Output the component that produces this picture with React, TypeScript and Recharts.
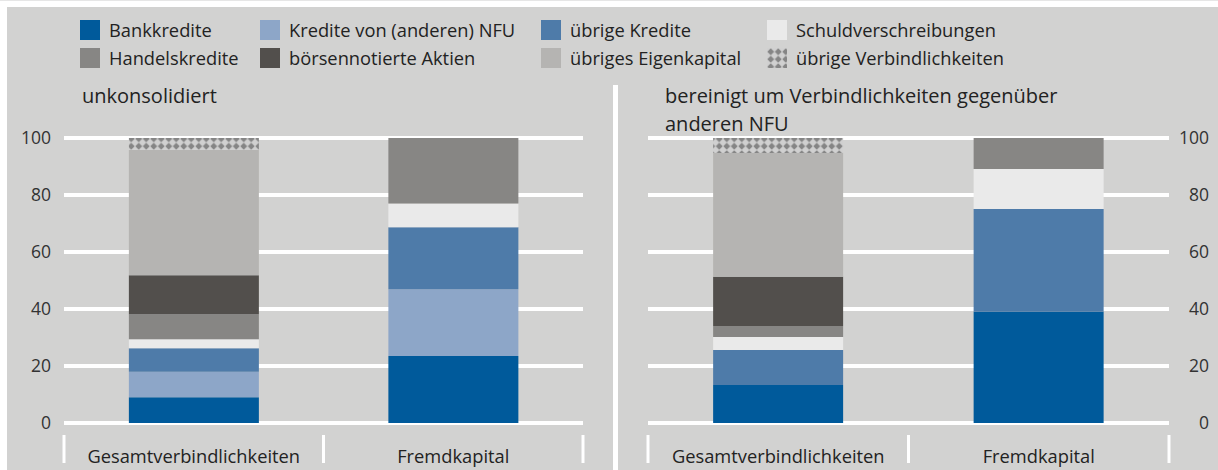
import { BarChart, Bar, XAxis, YAxis, CartesianGrid } from 'recharts';

const categories = ['Gesamtverbindlichkeiten', 'Fremdkapital'];
const yTicks = [0, 20, 40, 60, 80, 100];

const seriesNames = [
  'Bankkredite', 'Kredite von (anderen) NFU', 'übrige Kredite', 'Schuldverschreibungen',
  'Handelskredite', 'börsennotierte Aktien', 'übriges Eigenkapital', 'übrige Verbindlichkeiten',
];
const seriesKeys = ['bank', 'nfu', 'uebrigeKredite', 'schuld', 'handel', 'aktien', 'eigenkapital', 'uebrigeVerb'];
const seriesColors = ['#005a9b', '#8da6c8', '#4e7ba9', '#eaeaea', '#878684', '#524f4c', '#b5b4b2', 'url(#hatch)'];

// unkonsolidiert
const bankU = [9.0, 23.5];
const nfuU = [9.0, 23.4];
const uebrigeKrediteU = [8.2, 21.8];
const schuldU = [3.2, 8.3];
const handelU = [8.8, 23.0];
const aktienU = [13.6, 0];
const eigenkapitalU = [44.0, 0];
const uebrigeVerbU = [4.2, 0];

// bereinigt um Verbindlichkeiten gegenüber anderen NFU
const bankB = [13.3, 39.0];
const nfuB = [0, 0];
const uebrigeKrediteB = [12.3, 36.1];
const schuldB = [4.6, 14.0];
const handelB = [3.8, 10.9];
const aktienB = [17.3, 0];
const eigenkapitalB = [43.4, 0];
const uebrigeVerbB = [5.3, 0];

const FONT = '"Open Sans", sans-serif';
const BG = '#d2d2d1';
const TEXT = '#222';

function buildRows(cols: number[][]) {
  return categories.map((name, i) => {
    const row: Record<string, string | number> = { name };
    seriesKeys.forEach((k, s) => { row[k] = cols[s][i]; });
    return row;
  });
}

const dataU = buildRows([bankU, nfuU, uebrigeKrediteU, schuldU, handelU, aktienU, eigenkapitalU, uebrigeVerbU]);
const dataB = buildRows([bankB, nfuB, uebrigeKrediteB, schuldB, handelB, aktienB, eigenkapitalB, uebrigeVerbB]);

function HatchPattern({ id }: { id: string }) {
  return (
    <pattern id={id} width="7.5" height="7.5" patternUnits="userSpaceOnUse">
      <rect width="7.5" height="7.5" fill="#d0d0d0" />
      <polygon points="3.75,0.3 7.2,3.75 3.75,7.2 0.3,3.75" fill="#858585" />
    </pattern>
  );
}

function CategoryTick(props: any) {
  const { x, y, payload, index } = props;
  const half = payload?.offset ?? 0;
  const last = index === categories.length - 1;
  return (
    <g>
      <line x1={x - half} x2={x - half} y1={y + 12} y2={y + 40} stroke="#fff" strokeWidth={3} />
      {last && <line x1={x + half} x2={x + half} y1={y + 12} y2={y + 40} stroke="#fff" strokeWidth={3} />}
      <text x={x} y={y + 40} textAnchor="middle" fill={TEXT} fontSize={18.3} fontFamily={FONT}>
        {payload.value}
      </text>
    </g>
  );
}

function Panel({ data, side }: { data: Record<string, string | number>[]; side: 'left' | 'right' }) {
  const isLeft = side === 'left';
  return (
    <BarChart
      width={isLeft ? 613 : 600}
      height={470}
      data={data}
      barCategoryGap="25%"
      margin={isLeft ? { top: 138, right: 30, bottom: 0, left: 0 } : { top: 138, right: 0, bottom: 0, left: 30 }}
    >
      <defs>
        <HatchPattern id="hatch" />
      </defs>
      <CartesianGrid vertical={false} stroke="#fff" strokeWidth={4} />
      <XAxis
        dataKey="name"
        axisLine={false}
        tickLine={false}
        tickSize={0}
        tickMargin={0}
        height={47}
        interval={0}
        tick={<CategoryTick />}
      />
      <YAxis
        orientation={side}
        width={isLeft ? 64 : 49}
        domain={[0, 100]}
        ticks={yTicks}
        axisLine={false}
        tickLine={false}
        tickSize={0}
        tickMargin={isLeft ? 13 : 40}
        tick={{ fill: '#333', fontSize: 17.5, fontFamily: FONT, textAnchor: 'end' }}
      />
      {seriesKeys.map((k, i) => (
        <Bar
          key={k}
          dataKey={k}
          name={seriesNames[i]}
          stackId="a"
          fill={seriesColors[i]}
          isAnimationActive={false}
        />
      ))}
    </BarChart>
  );
}

const legendCols = [80, 260, 541, 767];

function Swatch({ color }: { color: string }) {
  return (
    <svg width={20} height={20} style={{ position: 'absolute', left: 0, top: 0 }}>
      <defs>
        <HatchPattern id="hatchLegend" />
      </defs>
      <rect width={20} height={20} fill={color === 'url(#hatch)' ? 'url(#hatchLegend)' : color} />
    </svg>
  );
}

function Legend() {
  return (
    <>
      {seriesNames.map((name, i) => {
        const col = i % 4;
        const row = Math.floor(i / 4);
        return (
          <div
            key={name}
            style={{
              position: 'absolute', left: legendCols[col], top: 20 + row * 28,
              height: 20, paddingLeft: 29, fontSize: 18.3, lineHeight: '20px',
              color: TEXT, whiteSpace: 'nowrap',
            }}
          >
            <Swatch color={seriesColors[i]} />
            {name}
          </div>
        );
      })}
    </>
  );
}

export default function App() {
  return (
    <div style={{ position: 'absolute', left: 0, top: 0, width: 1218, height: 470, background: '#fff', overflow: 'hidden', fontFamily: FONT }}>
      <div style={{ position: 'absolute', left: 0, top: 0, width: 1218, height: 1, background: '#e6e6e6' }} />
      <div style={{ position: 'absolute', left: 7, top: 7, width: 1211, height: 463, background: BG }} />
      <Legend />
      <div style={{ position: 'absolute', left: 613, top: 85, width: 5, height: 385, background: '#fff' }} />
      <div style={{ position: 'absolute', left: 82, top: 82, fontSize: 20, lineHeight: '27.5px', color: TEXT }}>unkonsolidiert</div>
      <div style={{ position: 'absolute', left: 665, top: 82, fontSize: 20, lineHeight: '27.5px', color: TEXT }}>
        <div>bereinigt um Verbindlichkeiten gegenüber</div>
        <div>anderen NFU</div>
      </div>
      <div style={{ position: 'absolute', left: 0, top: 0 }}>
        <Panel data={dataU} side="left" />
      </div>
      <div style={{ position: 'absolute', left: 618, top: 0 }}>
        <Panel data={dataB} side="right" />
      </div>
    </div>
  );
}
